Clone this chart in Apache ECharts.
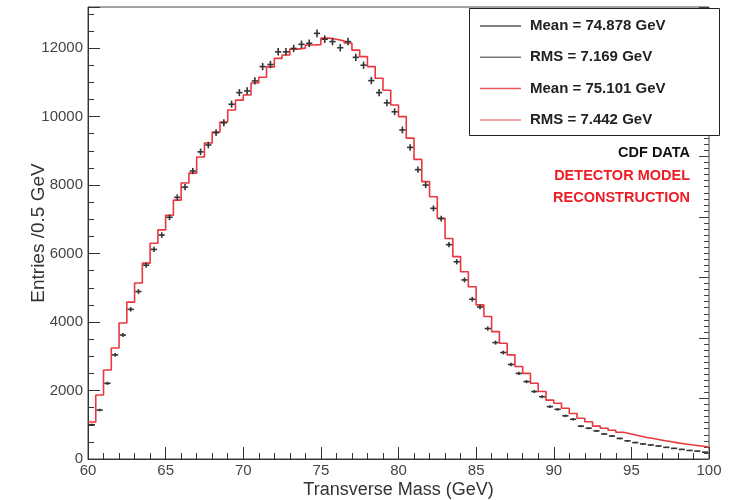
<!DOCTYPE html>
<html>
<head>
<meta charset="utf-8">
<script src="https://cdn.jsdelivr.net/npm/echarts@6/dist/echarts.min.js"></script>
<style>
  html, body { margin: 0; padding: 0; background: #fff; }
  #main { width: 738px; height: 500px; }
</style>
</head>
<body>
<div id="main"></div>
<script>
// bins: 0.5 GeV from 60 to 100
const binStart = 60;
const binWidth = 0.5;

// detector model reconstruction (red histogram), one value per bin
const modelCounts = [
  1080, 1870, 2600, 3240, 3970, 4580, 5140, 5720, 6300, 6690,
  7120, 7560, 8060, 8350, 8820, 9230, 9550, 9840, 10190, 10480,
  10630, 10980, 11150, 11450, 11700, 11800, 11970, 12000, 12090, 12100,
  12290, 12260, 12210, 12150, 11940, 11750, 11460, 11120, 10770, 10340,
  10000, 9370, 8750, 8100, 7660, 7030, 6440, 5910, 5470, 5030,
  4500, 4160, 3720, 3380, 3040, 2700, 2500, 2210, 1970, 1720,
  1630, 1480, 1330, 1190, 1090, 960, 900, 840, 780, 730,
  680, 630, 590, 550, 510, 470, 440, 410, 380, 350
];

// CDF data (black points)
const dataCounts = [
  1000, 1430, 2210, 3040, 3620, 4370, 4890, 5660, 6120, 6540,
  7060, 7640, 7940, 8410, 8970, 9170, 9530, 9820, 10360, 10700,
  10750, 11040, 11460, 11520, 11890, 11890, 11990, 12110, 12140, 12430,
  12260, 12190, 12010, 12190, 11730, 11500, 11050, 10700, 10400, 10140,
  9610, 9100, 8450, 8000, 7320, 7020, 6260, 5760, 5230, 4665,
  4440, 3810, 3400, 3110, 2760, 2500, 2260, 1970, 1820, 1530,
  1450, 1260, 1160, 960, 900, 820, 730, 670, 600, 530,
  480, 440, 410, 380, 340, 310, 280, 250, 230, 200
];

const legendLabels = ['Mean = 74.878 GeV', 'RMS = 7.169 GeV', 'Mean = 75.101 GeV', 'RMS = 7.442 GeV'];
const legendColors = ['#555', '#777', '#e8585c', '#f08a8a'];

const chart = echarts.init(document.getElementById('main'));

// step line through the bin edges
const modelLine = modelCounts.map(function (v, i) { return [binStart + i * binWidth, v]; });
modelLine.push([binStart + modelCounts.length * binWidth, modelCounts[modelCounts.length - 1]]);

const dataPoints = dataCounts.map(function (v, i) { return [binStart + (i + 0.5) * binWidth, v]; });

function renderCross(params, api) {
  const x = api.value(0), y = api.value(1);
  const c = api.coord([x, y]);
  const half = api.size([0.2, Math.sqrt(y)]);
  const style = { stroke: '#333', lineWidth: 1.6 };
  return {
    type: 'group',
    children: [
      { type: 'line', shape: { x1: c[0] - half[0], y1: c[1], x2: c[0] + half[0], y2: c[1] }, style: style },
      { type: 'line', shape: { x1: c[0], y1: c[1] - half[1], x2: c[0], y2: c[1] + half[1] }, style: style }
    ]
  };
}

const legendGraphics = [{
  type: 'rect', left: 469, top: 8, z: 10,
  shape: { width: 250, height: 127 },
  style: { fill: '#fff', stroke: '#222', lineWidth: 1 }
}];
legendLabels.forEach(function (t, i) {
  const y = 26 + i * 31.3;
  legendGraphics.push({
    type: 'line', z: 11,
    shape: { x1: 480, y1: y, x2: 521, y2: y },
    style: { stroke: legendColors[i], lineWidth: 1.5 }
  });
  legendGraphics.push({
    type: 'text', z: 11, x: 530, y: y,
    style: { text: t, fill: '#222', font: 'bold 15px "Liberation Sans", Arial', verticalAlign: 'middle' }
  });
});

const labelTexts = [
  { text: 'CDF DATA', color: '#111', y: 153 },
  { text: 'DETECTOR MODEL', color: '#ee1c25', y: 176 },
  { text: 'RECONSTRUCTION', color: '#ee1c25', y: 198 }
];
labelTexts.forEach(function (l) {
  legendGraphics.push({
    type: 'text', z: 11, x: 690, y: l.y,
    style: { text: l.text, fill: l.color, font: 'bold 14.5px "Liberation Sans", Arial', align: 'right', verticalAlign: 'middle' }
  });
});

const option = {
  animation: false,
  backgroundColor: '#fff',
  grid: {
    left: 88, right: 29, top: 7, bottom: 41,
    outerBoundsMode: 'none',
    show: true, borderColor: '#444', borderWidth: 1
  },
  xAxis: {
    type: 'value', min: 60, max: 100, interval: 5,
    name: 'Transverse Mass (GeV)', nameLocation: 'middle', nameGap: 22,
    nameMoveOverlap: false,
    nameTextStyle: { fontSize: 18, color: '#333', fontFamily: 'Liberation Sans' },
    axisLine: { show: true, lineStyle: { color: '#333' } },
    axisTick: { inside: true, length: 12, lineStyle: { color: '#333' } },
    minorTick: { show: true, splitNumber: 5, length: 6, lineStyle: { color: '#333' } },
    axisLabel: { fontSize: 15, color: '#444', margin: 4, fontFamily: 'Liberation Sans' },
    splitLine: { show: false }
  },
  yAxis: [{
    type: 'value', min: 0, max: 13200, interval: 2000,
    name: 'Entries /0.5 GeV', nameLocation: 'middle', nameGap: 40, nameRotate: 90,
    nameMoveOverlap: false,
    nameTextStyle: { fontSize: 19, color: '#333', fontFamily: 'Liberation Sans' },
    axisLine: { show: true, lineStyle: { color: '#333' } },
    axisTick: { inside: true, length: 12, lineStyle: { color: '#333' } },
    minorTick: { show: true, splitNumber: 4, length: 6, lineStyle: { color: '#333' } },
    axisLabel: {
      fontSize: 15, color: '#444', margin: 5, fontFamily: 'Liberation Sans',
      showMaxLabel: false,
      formatter: function (v) { return String(v); }
    },
    splitLine: { show: false }
  }, {
    // right-hand frame ticks
    type: 'value', position: 'right', min: 0, max: 7.47, interval: 1,
    axisLine: { show: false },
    axisTick: { inside: true, length: 10, lineStyle: { color: '#444' } },
    minorTick: { show: true, splitNumber: 10, length: 5, lineStyle: { color: '#444' } },
    axisLabel: { show: false },
    splitLine: { show: false }
  }],
  series: [{
    name: 'Detector model',
    type: 'line',
    step: 'end',
    data: modelLine,
    symbol: 'none',
    lineStyle: { color: '#e8383d', width: 1.6 },
    z: 2
  }, {
    name: 'CDF data',
    type: 'custom',
    data: dataPoints,
    renderItem: renderCross,
    z: 3
  }],
  graphic: legendGraphics
};

chart.setOption(option);
</script>
</body>
</html>
